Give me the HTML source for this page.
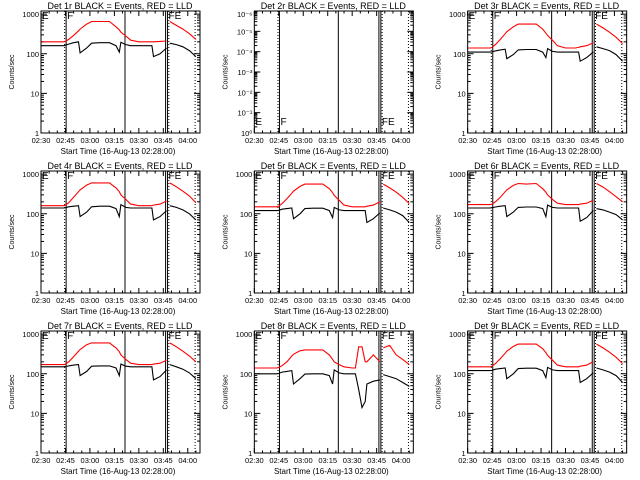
<!DOCTYPE html>
<html><head><meta charset="utf-8"><style>
html,body{margin:0;padding:0;background:#fff}
svg{display:block}
text{font-family:"Liberation Sans",sans-serif;fill:#000}
</style></head><body>
<svg id="c" width="640" height="480" viewBox="0 0 640 480" xmlns="http://www.w3.org/2000/svg"></svg>
<script>
const times=[0,14,15,17,20,23,24,28,31,36,42,46,48,49,52,55,60,62,64,66,68,69,73,77,null,79,83,87,91,95];
const xTickLabels=["02:30","02:45","03:00","03:15","03:30","03:45","04:00"];
const xTickMins=[0,15,30,45,60,75,90];
const yTickLabels=["1","10","100","1000"];
const yTickVals=[1,10,100,1000];
const titles=["Det 1r BLACK = Events, RED = LLD","Det 2r BLACK = Events, RED = LLD","Det 3r BLACK = Events, RED = LLD","Det 4r BLACK = Events, RED = LLD","Det 5r BLACK = Events, RED = LLD","Det 6r BLACK = Events, RED = LLD","Det 7r BLACK = Events, RED = LLD","Det 8r BLACK = Events, RED = LLD","Det 9r BLACK = Events, RED = LLD"];
const red1=[200,200,205,230,290,380,420,560,650,650,650,480,400,350,280,220,200,200,200,200,200,200,205,210,null,650,520,420,320,230];
const blk1=[160,160,165,175,190,200,105,140,185,190,190,160,110,195,170,160,160,160,160,160,160,85,100,140,null,185,170,150,120,85];
const red3=[140,140,145,170,230,320,360,480,560,560,560,420,330,290,220,160,140,140,140,140,145,150,160,190,null,560,450,350,260,180];
const blk3=[110,110,112,118,125,130,75,95,125,128,128,110,80,135,115,110,110,110,110,110,110,65,80,110,null,150,135,120,95,65];
const red4=[160,160,165,190,260,360,400,530,600,600,600,450,360,300,230,175,160,160,160,160,160,165,175,210,null,600,480,370,280,190];
const blk4=[140,140,142,150,155,160,85,110,150,155,155,135,85,170,145,140,140,140,140,140,140,70,85,120,null,160,145,125,100,70];
const red5=[150,150,155,180,240,330,370,490,560,560,560,430,340,290,220,165,150,150,150,150,150,155,165,200,null,560,450,350,260,180];
const blk5=[120,120,122,130,135,140,75,100,135,138,138,120,80,145,125,120,120,120,120,120,120,60,75,105,null,140,125,110,90,60];
const red6=[170,170,175,200,260,360,400,520,580,560,580,430,350,300,230,185,170,170,170,170,170,175,185,220,null,580,470,360,270,200];
const blk6=[140,140,142,148,155,160,85,110,145,148,148,135,85,165,145,140,140,140,140,140,140,65,80,120,null,135,125,110,95,70];
const red7=[170,170,175,200,270,370,410,540,600,600,600,450,360,300,230,185,170,170,170,170,170,175,185,220,null,600,480,370,280,200];
const blk7=[150,150,152,158,165,170,90,115,155,158,158,140,90,175,155,150,150,150,150,150,150,70,85,125,null,170,150,130,105,75];
const red8=[140,140,145,160,200,280,310,380,400,400,400,300,230,200,170,150,140,140,480,480,200,200,300,200,null,450,520,300,230,170];
const blk8=[100,100,102,110,115,120,55,75,98,100,100,90,55,125,105,100,100,100,40,14,20,55,65,70,null,95,85,75,60,48];
const red9=[150,150,155,180,240,330,370,490,560,560,560,430,340,290,220,165,150,150,150,150,150,155,165,200,null,560,450,350,260,180];
const blk9=[120,120,122,130,135,140,75,100,135,138,138,120,80,145,125,120,120,120,120,120,120,60,75,105,null,140,125,110,90,60];
const reds=[red1,null,red3,red4,red5,red6,red7,red8,red9];
const blks=[blk1,null,blk3,blk4,blk5,blk6,blk7,blk8,blk9];
const NS="http://www.w3.org/2000/svg";
const svg=document.getElementById('c');
function mk(t,a,p){const e=document.createElementNS(NS,t);for(const k in a)e.setAttribute(k,a[k]);(p||svg).appendChild(e);return e;}
const TMAX=97.5,YMAX=1200;
for(let i=0;i<9;i++){
  const ox=(i%3)*213.33,oy=Math.floor(i/3)*160;
  const L=ox+41,R=ox+200,T=oy+11,B=oy+133;
  const g=mk('g',{});
  
  
  const xs=t=>L+(R-L)*t/TMAX;
  const ys=v=>B-(B-T)*Math.log10(v)/Math.log10(YMAX);
  const ti=mk('text',{x:ox+120,y:oy+9,'font-size':'9','text-anchor':'middle'},g);ti.textContent=titles[i];
  
  const yl=mk('text',{x:0,y:0,'font-size':'7','text-anchor':'middle',transform:`translate(${ox+14},${(T+B)/2}) rotate(-90)`},g);yl.textContent='Counts/sec';
  
  const xl=mk('text',{x:ox+118,y:oy+154,'font-size':'8','text-anchor':'middle'},g);xl.textContent='Start Time (16-Aug-13 02:28:00)';
  
  xTickMins.forEach((m,k)=>{const x=xs(m);
    mk('line',{x1:x,x2:x,y1:B,y2:B-5,stroke:'#000'},g);mk('line',{x1:x,x2:x,y1:T,y2:T+5,stroke:'#000'},g);
    const t=mk('text',{x:x,y:B+10,'font-size':'7.5','text-anchor':'middle'},g);t.textContent=xTickLabels[k];
    });
  for(let m=5;m<TMAX;m+=5){if(m%15)
    {mk('line',{x1:xs(m),x2:xs(m),y1:B,y2:B-2.5,stroke:'#000'},g);mk('line',{x1:xs(m),x2:xs(m),y1:T,y2:T+2.5,stroke:'#000'},g);}}
  if(i===1){
    const labs=["10\u2070","10\u207B\u00B9","10\u207B\u00B2","10\u207B\u00B3","10\u207B\u2074","10\u207B\u2075","10\u207B\u2076"];
    labs.forEach((s,k)=>{const y=B-(B-T)*k/6;
      mk('line',{x1:L,x2:L+6,y1:y,y2:y,stroke:'#000'},g);mk('line',{x1:R,x2:R-6,y1:y,y2:y,stroke:'#000'},g);
      const t=mk('text',{x:L-2,y:y+3+(k==6?3:0),'font-size':'7.5','text-anchor':'end'},g);t.textContent=s;
      
      for(let j=2;j<10;j++){if(k<6){const yy=y-(B-T)/6*Math.log10(j);mk('line',{x1:L,x2:L+3,y1:yy,y2:yy,stroke:'#000'},g);mk('line',{x1:R,x2:R-3,y1:yy,y2:yy,stroke:'#000'},g);}}});
  } else {
    yTickVals.forEach((v,k)=>{const y=ys(v);
      mk('line',{x1:L,x2:L+6,y1:y,y2:y,stroke:'#000'},g);mk('line',{x1:R,x2:R-6,y1:y,y2:y,stroke:'#000'},g);
      const t=mk('text',{x:L-2,y:y+3,'font-size':'7.5','text-anchor':'end'},g);t.textContent=yTickLabels[k];
      
      for(let j=2;j<10;j++){const vv=v*j;if(vv<YMAX){const yy=ys(vv);mk('line',{x1:L,x2:L+3,y1:yy,y2:yy,stroke:'#000'},g);mk('line',{x1:R,x2:R-3,y1:yy,y2:yy,stroke:'#000'},g);}}});
  }
  mk('line',{x1:xs(14.5),x2:xs(14.5),y1:T,y2:B,stroke:'#000','stroke-dasharray':'1,2'},g);
  mk('line',{x1:xs(15.4),x2:xs(15.4),y1:T,y2:B,stroke:'#000'},g);
  mk('line',{x1:xs(51.5),x2:xs(51.5),y1:T,y2:B,stroke:'#000'},g);
  mk('line',{x1:xs(76.4),x2:xs(76.4),y1:T,y2:B,stroke:'#000'},g);
  mk('line',{x1:xs(77.6),x2:xs(77.6),y1:T,y2:B,stroke:'#000'},g);
  mk('line',{x1:xs(78.4),x2:xs(78.4),y1:T,y2:B,stroke:'#000','stroke-dasharray':'1,2'},g);
  mk('line',{x1:xs(94.5),x2:xs(94.5),y1:T,y2:B,stroke:'#000','stroke-dasharray':'1,2'},g);
  const ly=i===1?B-8:T+8;
  [['E',L+1],['F',xs(15.4)+1],['FE',xs(77.6)+1]].forEach(([s,x])=>{const t=mk('text',{x:x,y:ly,'font-size':'10'},g);t.textContent=s;
    });
  const draw=(arr,col,nm)=>{if(!arr)return;let d='',pen=false;
    for(let k=0;k<times.length;k++){if(times[k]===null||arr[k]===null){pen=false;continue;}
      d+=(pen?'L':'M')+xs(times[k]).toFixed(1)+','+ys(arr[k]).toFixed(1);pen=true;}
    const p=mk('path',{d:d,fill:'none',stroke:col,'stroke-width':'1.1'},g);
    };
  draw(reds[i],'#ff0000','lld-red-series');
  draw(blks[i],'#000000','events-black-series');
  const fr=mk('rect',{x:L,y:T,width:R-L,height:B-T,fill:'none',stroke:'#000'},g);
  
}
</script>
</body></html>
